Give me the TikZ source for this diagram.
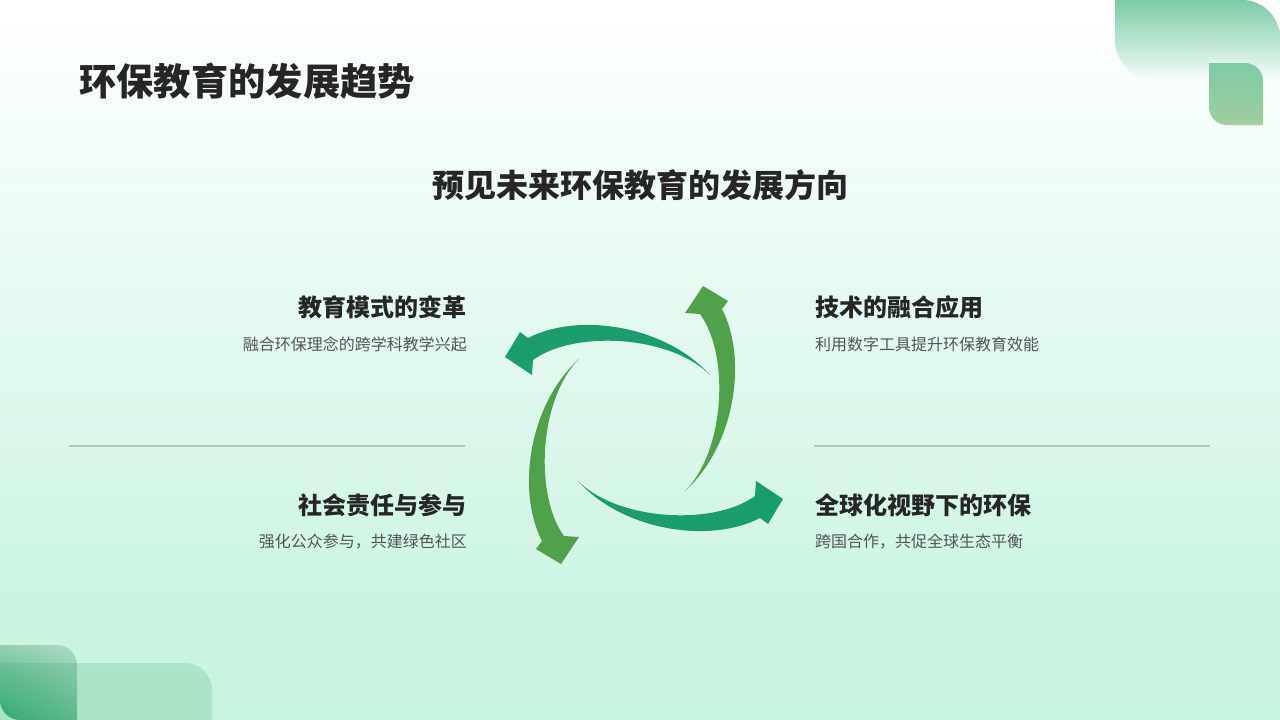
\documentclass[tikz,border=0pt]{standalone}
\usepackage{fontspec}
\setmainfont{Noto Sans CJK SC}
\usetikzlibrary{shadings}
\definecolor{cfondo}{RGB}{196,243,222}
\definecolor{cmedio}{RGB}{226,249,239}
\definecolor{cteal}{RGB}{27,158,110}
\definecolor{cverde}{RGB}{80,162,74}
\definecolor{ctexto}{RGB}{38,38,38}
\definecolor{cdesc}{RGB}{85,85,85}
\definecolor{clinea}{RGB}{180,196,190}
\definecolor{choja}{RGB}{124,203,168}
\definecolor{choja2}{RGB}{160,207,158}
\definecolor{cesq}{RGB}{52,168,112}

\begin{document}
\begin{tikzpicture}[x=1pt, y=-1pt,
    titulo/.style={font=\fontsize{37.3}{42}\selectfont\bfseries, text=ctexto, inner sep=0pt},
    subt/.style={font=\fontsize{32}{36}\selectfont\bfseries, text=ctexto, inner sep=0pt},
    tema/.style={font=\fontsize{24}{28}\selectfont\bfseries, text=ctexto, inner sep=0pt},
    desc/.style={font=\fontsize{16}{20}\selectfont, text=cdesc, inner sep=0pt},
    sep/.style={draw=clinea, line width=1.5pt}]

  % fondo
  \shade[top color=white, middle color=cmedio, bottom color=cfondo] (0,0) rectangle (1280,720);
  \useasboundingbox (0,0) rectangle (1280,720);

  % hojas (esquinas)
  \shade[top color=choja, bottom color=white!94!choja]
    (1115,0) -- (1242,0) .. controls (1263,0) and (1280,17) .. (1280,38) -- (1280,80)
    -- (1155,80) .. controls (1133,80) and (1115,62) .. (1115,40) -- cycle;
  \shade[top color=choja, bottom color=choja2]
    (1209,63) -- (1245,63) .. controls (1255,63) and (1263,71) .. (1263,81) -- (1263,125)
    -- (1227,125) .. controls (1217,125) and (1209,117) .. (1209,107) -- cycle;
  \shade[lower left=cesq, lower right=cesq!75!white, upper left=cesq!55!white, upper right=cesq!40!white]
    (0,645) -- (57,645) .. controls (68,645) and (77,654) .. (77,665) -- (77,720)
    -- (20,720) .. controls (9,720) and (0,711) .. (0,700) -- cycle;
  \fill[cesq, fill opacity=0.2]
    (0,663) -- (185,663) .. controls (200,663) and (212,675) .. (212,690) -- (212,720)
    -- (0,720) -- cycle;

  \node[titulo, anchor=west] (titulo) at (79,81) {环保教育的发展趋势};
  \node[subt] (lema) at (640,185) {预见未来环保教育的发展方向};

  % flechas del ciclo
  \foreach \ang/\col/\cx/\cy in {0/cteal/644/428, -90/cverde/632/425, -180/cteal/644/428, -270/cverde/632/425}{
    \begin{scope}[shift={(\cx,\cy)}, rotate=\ang]
      \fill[\col] (66,-53) .. controls (21,-103) and (-66,-116) .. (-116,-90)
        -- (-124,-96) -- (-139,-71) -- (-112,-53) -- (-111,-68)
        .. controls (-70,-98) and (26,-93) .. (66,-53) -- cycle;
    \end{scope}
  }

  % temas
  \node[tema, anchor=east] (modo) at (467,307) {教育模式的变革};
  \node[desc, anchor=east] (modoD) at (467,344) {融合环保理念的跨学科教学兴起};
  \node[tema, anchor=west] (tec) at (815,307) {技术的融合应用};
  \node[desc, anchor=west] (tecD) at (815,344) {利用数字工具提升环保教育效能};
  \node[tema, anchor=east] (soc) at (467,505) {社会责任与参与};
  \node[desc, anchor=east] (socD) at (467,542) {强化公众参与，共建绿色社区};
  \node[tema, anchor=west] (glob) at (815,505) {全球化视野下的环保};
  \node[desc, anchor=west] (globD) at (815,542) {跨国合作，共促全球生态平衡};

  % separadores
  \draw[sep] (69,446) -- (465,446);
  \draw[sep] (814,446) -- (1210,446);
\end{tikzpicture}
\end{document}
